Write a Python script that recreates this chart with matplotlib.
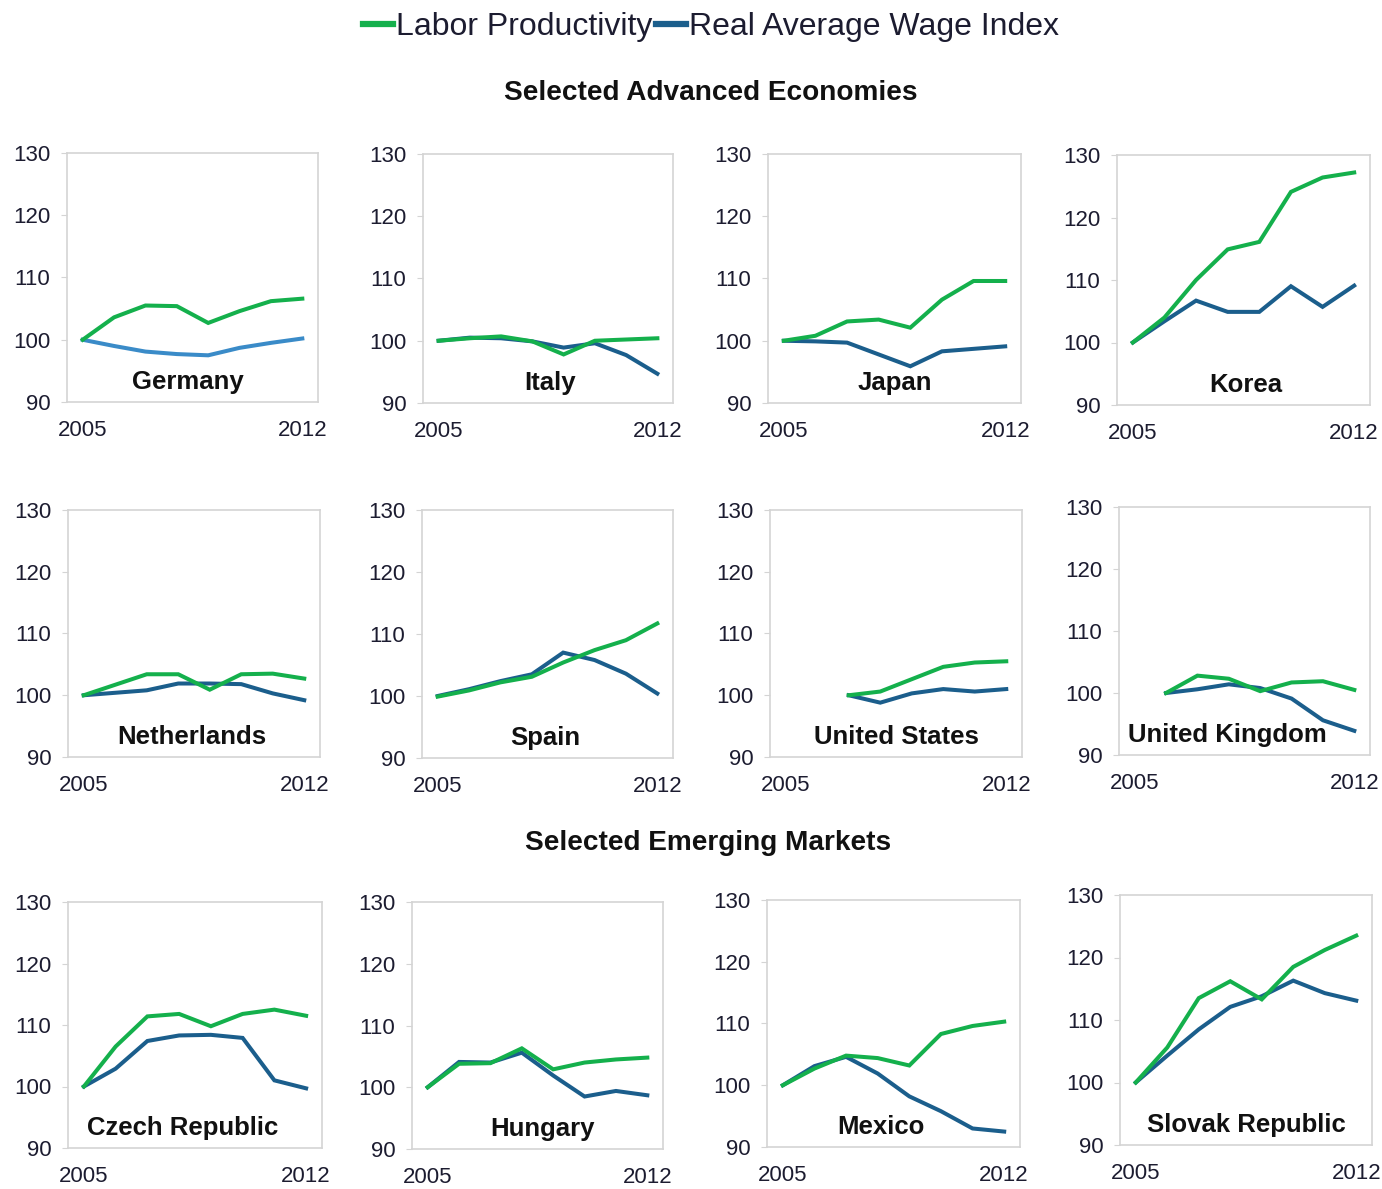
import numpy as np
import matplotlib
matplotlib.use('Agg')
import matplotlib.pyplot as plt
from matplotlib.lines import Line2D

# %% Datos (índice 2005 = 100)
years = ['2005', '2006', '2007', '2008', '2009', '2010', '2011', '2012']
nan = np.nan

germany_prod = [100, 103.6, 105.5, 105.4, 102.7, 104.6, 106.2, 106.6]
germany_wage = [100, 99.0, 98.1, 97.7, 97.5, 98.7, 99.5, 100.2]
italy_prod = [100, 100.4, 100.7, 99.9, 97.8, 100.0, 100.2, 100.4]
italy_wage = [100, 100.5, 100.4, 99.9, 98.9, 99.6, 97.7, 94.7]
japan_prod = [100, 100.8, 103.1, 103.4, 102.1, 106.6, 109.6, 109.6]
japan_wage = [100, 99.9, 99.7, 97.8, 95.9, 98.3, 98.7, 99.1]
korea_prod = [100, 104.0, 110.0, 114.9, 116.1, 124.1, 126.4, 127.2]
korea_wage = [100, 103.4, 106.7, 104.9, 104.9, 109.0, 105.7, 109.1]

netherlands_prod = [100, 101.7, 103.4, 103.4, 100.9, 103.4, 103.5, 102.7]
netherlands_wage = [100, 100.4, 100.8, 101.9, 101.9, 101.8, 100.3, 99.2]
spain_prod = [99.9, 100.9, 102.2, 103.1, 105.4, 107.4, 109.0, 111.7]
spain_wage = [100, 101.1, 102.4, 103.5, 107.0, 105.8, 103.6, 100.4]
us_prod = [nan, nan, 100, 100.6, 102.6, 104.6, 105.3, 105.5]
us_wage = [nan, nan, 100, 98.8, 100.3, 101.0, 100.6, 101.0]
uk_prod = [nan, 100, 102.8, 102.3, 100.3, 101.7, 101.9, 100.5]
uk_wage = [nan, 100, 100.6, 101.4, 100.8, 99.1, 95.6, 93.9]

czech_prod = [100, 106.5, 111.4, 111.8, 109.8, 111.8, 112.5, 111.5]
czech_wage = [100, 102.9, 107.4, 108.3, 108.4, 107.9, 101.0, 99.7]
hungary_prod = [100, 103.8, 103.9, 106.3, 102.9, 104.0, 104.5, 104.8]
hungary_wage = [100, 104.1, 104.0, 105.6, 101.9, 98.5, 99.4, 98.7]
mexico_prod = [100, 102.7, 104.8, 104.4, 103.2, 108.3, 109.6, 110.3]
mexico_wage = [100, 103.1, 104.6, 101.9, 98.2, 95.8, 93.0, 92.5]
slovak_prod = [100, 105.6, 113.5, 116.2, 113.3, 118.5, 121.2, 123.5]
slovak_wage = [100, 104.3, 108.5, 112.1, 113.8, 116.3, 114.3, 113.1]

countries = ['Germany', 'Italy', 'Japan', 'Korea',
             'Netherlands', 'Spain', 'United States', 'United Kingdom',
             'Czech Republic', 'Hungary', 'Mexico', 'Slovak Republic']
prod = [germany_prod, italy_prod, japan_prod, korea_prod,
        netherlands_prod, spain_prod, us_prod, uk_prod,
        czech_prod, hungary_prod, mexico_prod, slovak_prod]
wage = [germany_wage, italy_wage, japan_wage, korea_wage,
        netherlands_wage, spain_wage, us_wage, uk_wage,
        czech_wage, hungary_wage, mexico_wage, slovak_wage]

# %% Estilo
verde = '#14b04c'
azul = '#1b5e8c'
azul_claro = '#3a8bc8'
gris = '#d4d4d4'
texto = '#1c1c30'
plt.rcParams['font.family'] = ['Liberation Sans', 'DejaVu Sans']

W, H = 1382, 1189
fig = plt.figure(figsize=(W / 100, H / 100), dpi=100)

# cajas de los paneles en pixeles: (izq, arriba, der, abajo)
cajas = [(67, 153, 318, 402), (423, 154, 673, 403), (768, 154, 1021, 403), (1117, 155, 1370, 405),
         (68, 510, 320, 757), (422, 510, 673, 758), (770, 510, 1022, 757), (1119, 507, 1370, 755),
         (68, 902, 322, 1148), (412, 902, 663, 1149), (767, 900, 1020, 1147), (1120, 895, 1372, 1145)]
# posición horizontal del nombre del país (fracción del panel)
pos_titulo = [0.48, 0.51, 0.50, 0.51, 0.49, 0.49, 0.50, 0.43,
              0.45, 0.52, 0.45, 0.50]

x = np.arange(len(years))
for i, pais in enumerate(countries):
    l, t, r, b = cajas[i]
    ax = fig.add_axes([l / W, 1 - b / H, (r - l) / W, (b - t) / H])
    color_w = azul_claro if pais == 'Germany' else azul
    ax.plot(x, wage[i], color=color_w, lw=2.9, solid_joinstyle='miter')
    ax.plot(x, prod[i], color=verde, lw=2.9, solid_joinstyle='miter')
    ax.set_xlim(-0.5, 7.5)
    ax.set_ylim(90, 130)
    ax.set_yticks([90, 100, 110, 120, 130])
    ax.set_xticks([0, 7])
    ax.set_xticklabels([years[0], years[-1]])
    for s in ax.spines.values():
        s.set_color(gris)
        s.set_linewidth(1.2)
    ax.tick_params(axis='y', length=4, color=gris, pad=8, labelsize=16, labelcolor=texto)
    ax.tick_params(axis='x', length=0, pad=13, labelsize=16, labelcolor=texto)
    ax.text(pos_titulo[i], 20 / (b - t), pais, transform=ax.transAxes, ha='center', va='center',
            fontsize=18.5, fontweight='bold', color='#111111')

# %% Títulos de sección y leyenda
fig.text(711 / W, 1 - 93 / H, 'Selected Advanced Economies', ha='center', va='center',
         fontsize=20.2, fontweight='bold', color='#111111')
fig.text(708 / W, 1 - 843 / H, 'Selected Emerging Markets', ha='center', va='center',
         fontsize=20.2, fontweight='bold', color='#111111')

handles = [Line2D([], [], color=verde, lw=4.5), Line2D([], [], color=azul, lw=4.5)]
fig.legend(handles, ['Labor Productivity', 'Real Average Wage Index'], loc='center',
           bbox_to_anchor=(711 / W, 1 - 27 / H), ncol=2, frameon=False, fontsize=23,
           handlelength=0.95, handletextpad=0.1, columnspacing=0.1, labelcolor=texto)

fig.savefig('out.png', dpi=100, facecolor='white')
